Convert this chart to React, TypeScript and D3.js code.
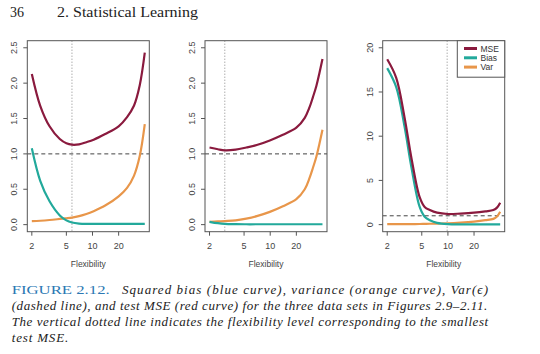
import React from "react";
import * as d3 from "d3";

// flexibility (x) and the three curves for each data set
const flex1 = [2, 2.5, 3.2, 4.2, 5, 5.8, 7, 8.5, 10.3, 14, 20, 25, 30, 35, 40];
const bias1 = [1.08, 0.62, 0.33, 0.13, 0.06, 0.03, 0.015, 0.01, 0.01, 0.01, 0.01, 0.01, 0.01, 0.01, 0.01];
const var1 = [0.05, 0.055, 0.065, 0.08, 0.09, 0.1, 0.12, 0.15, 0.19, 0.27, 0.4, 0.52, 0.69, 0.97, 1.42];
const mse1 = [2.13, 1.68, 1.39, 1.21, 1.15, 1.13, 1.135, 1.165, 1.2, 1.28, 1.39, 1.52, 1.68, 1.97, 2.43];

const flex2 = [2, 2.5, 3, 4, 5.3, 7, 9.9, 14, 20, 25, 28.4, 31, 34, 37, 40];
const bias2 = [0.04, 0.02, 0.01, 0.006, 0.005, 0.005, 0.005, 0.005, 0.005, 0.005, 0.005, 0.005, 0.005, 0.005, 0.005];
const var2 = [0.04, 0.045, 0.05, 0.06, 0.085, 0.12, 0.18, 0.26, 0.36, 0.5, 0.66, 0.8, 0.96, 1.15, 1.34];
const mse2 = [1.09, 1.065, 1.05, 1.06, 1.09, 1.125, 1.19, 1.27, 1.37, 1.51, 1.66, 1.8, 1.96, 2.15, 2.34];

const flex3 = [2, 2.54, 3.17, 3.79, 4.73, 5.4, 6.2, 7.5, 10, 14, 20, 27, 33.4, 37, 40];
const bias3 = [17.7, 15.55, 11.05, 6.55, 2.0, 0.9, 0.5, 0.2, 0.05, 0.02, 0.02, 0.02, 0.02, 0.02, 0.02];
const var3 = [0.05, 0.05, 0.05, 0.06, 0.07, 0.08, 0.1, 0.12, 0.15, 0.23, 0.35, 0.5, 0.65, 0.95, 1.45];
const mse3 = [18.7, 16.6, 12.1, 7.6, 3.1, 2.0, 1.65, 1.35, 1.2, 1.25, 1.35, 1.5, 1.65, 1.95, 2.47];

const xTicks = [2, 5, 10, 20];
const yTicks12 = [0, 0.5, 1, 1.5, 2, 2.5];
const yTicks3 = [0, 5, 10, 15, 20];
const minMseFlex = [5.8, 3.0, 9.8];
const legendLabels = ["MSE", "Bias", "Var"];

const colors = { mse: "#8a1a3e", bias: "#22a99b", variance: "#e8964a" };
const axisColor = "#555";
const labelFont = "'Liberation Sans', Arial, sans-serif";
const serif = "'Liberation Serif', 'Times New Roman', serif";

const panels = [
  { left: 27.3, flex: flex1, bias: bias1, variance: var1, mse: mse1, yMax: 2.5, yTicks: yTicks12, fmt: d3.format(".1f"), best: minMseFlex[0] },
  { left: 205, flex: flex2, bias: bias2, variance: var2, mse: mse2, yMax: 2.5, yTicks: yTicks12, fmt: d3.format(".1f"), best: minMseFlex[1] },
  { left: 382.7, flex: flex3, bias: bias3, variance: var3, mse: mse3, yMax: 20, yTicks: yTicks3, fmt: d3.format("d"), best: minMseFlex[2], legend: true },
];

const boxW = 122;
const boxTop = 40.7;
const boxBottom = 231.7;

function Panel({ p }) {
  const boxH = boxBottom - boxTop;
  const padX = (0.04 * boxW) / 1.08;
  const padY = (0.04 * boxH) / 1.08;
  const right = p.left + boxW;
  const x = d3.scaleLog().domain([2, 40]).range([p.left + padX, right - padX]);
  const y = d3.scaleLinear().domain([0, p.yMax]).range([boxBottom - padY, boxTop + padY]);

  const mk = (vals) =>
    d3
      .line()
      .x((d) => x(d[0]))
      .y((d) => y(d[1]))
      .curve(d3.curveCatmullRom.alpha(0.5))(p.flex.map((f, i) => [f, vals[i]]));

  const clipId = "clip" + Math.round(p.left);
  const cx = (p.left + right) / 2;

  return (
    <g>
      <defs>
        <clipPath id={clipId}>
          <rect x={p.left} y={boxTop} width={boxW} height={boxH} />
        </clipPath>
      </defs>
      <g clipPath={`url(#${clipId})`}>
        <line x1={x(p.best)} x2={x(p.best)} y1={boxTop} y2={boxBottom} stroke="#888" strokeWidth={1} strokeDasharray="1,2" />
        <line x1={p.left} x2={right} y1={y(1)} y2={y(1)} stroke="#444" strokeWidth={1} strokeDasharray="4,3" />
        <path d={mk(p.variance)} fill="none" stroke={colors.variance} strokeWidth={2.2} />
        <path d={mk(p.bias)} fill="none" stroke={colors.bias} strokeWidth={2.2} />
        <path d={mk(p.mse)} fill="none" stroke={colors.mse} strokeWidth={2.2} />
      </g>
      <rect x={p.left} y={boxTop} width={boxW} height={boxH} fill="none" stroke={axisColor} strokeWidth={1} />

      {/* x axis */}
      {xTicks.map((t) => (
        <g key={"x" + t}>
          <line x1={x(t)} x2={x(t)} y1={boxBottom} y2={boxBottom + 4} stroke={axisColor} />
          <text x={x(t)} y={248.5} textAnchor="middle" fontSize={9} fontFamily={labelFont} fill="#444">
            {t}
          </text>
        </g>
      ))}
      <text x={cx} y={267} textAnchor="middle" fontSize={8.5} fontFamily={labelFont} fill="#444">
        Flexibility
      </text>

      {/* y axis */}
      {p.yTicks.map((t) => (
        <g key={"y" + t}>
          <line x1={p.left - 4} x2={p.left} y1={y(t)} y2={y(t)} stroke={axisColor} />
          <text
            transform={`translate(${p.left - 10},${y(t)}) rotate(-90)`}
            textAnchor="middle"
            fontSize={9}
            fontFamily={labelFont}
            fill="#444"
          >
            {p.fmt(t)}
          </text>
        </g>
      ))}

      {p.legend && (
        <g>
          <rect x={457.3} y={boxTop} width={right - 457.3} height={36.5} fill="white" stroke={axisColor} strokeWidth={1} />
          {legendLabels.map((lab, i) => {
            const ly = 48.5 + i * 9.3;
            const col = [colors.mse, colors.bias, colors.variance][i];
            return (
              <g key={lab}>
                <line x1={464} x2={477} y1={ly} y2={ly} stroke={col} strokeWidth={3} />
                <text x={480.5} y={ly + 3} fontSize={8.5} fontFamily={labelFont} fill="#333">
                  {lab}
                </text>
              </g>
            );
          })}
        </g>
      )}
    </g>
  );
}

export default function App() {
  return (
    <svg
      width={540}
      height={354}
      style={{ position: "absolute", left: 0, top: 0, background: "white" }}
    >
      <rect width={540} height={354} fill="white" />
      <text x={10} y={17} fontSize={14} fontFamily={serif} fill="#222">
        36
      </text>
      <text x={57} y={17} fontSize={14} fontFamily={serif} fill="#222" textLength={141} lengthAdjust="spacingAndGlyphs">
        2. Statistical Learning
      </text>

      {panels.map((p) => (
        <Panel key={p.left} p={p} />
      ))}

      <text x={11.7} y={294} fontSize={13.5} fontFamily={serif} fill="#2b78b3" textLength={98} lengthAdjust="spacingAndGlyphs">
        FIGURE 2.12.
      </text>
      <text x={122} y={294} fontSize={13} fontFamily={serif} fontStyle="italic" fill="#222" textLength={366} lengthAdjust="spacing">
        Squared bias (blue curve), variance (orange curve), Var(ϵ)
      </text>
      <text x={11.7} y={310} fontSize={13} fontFamily={serif} fontStyle="italic" fill="#222" textLength={475.5} lengthAdjust="spacing">
        (dashed line), and test MSE (red curve) for the three data sets in Figures 2.9–2.11.
      </text>
      <text x={11.7} y={326} fontSize={13} fontFamily={serif} fontStyle="italic" fill="#222" textLength={476.5} lengthAdjust="spacing">
        The vertical dotted line indicates the flexibility level corresponding to the smallest
      </text>
      <text x={11.7} y={342} fontSize={13} fontFamily={serif} fontStyle="italic" fill="#222" textLength={56.5} lengthAdjust="spacing">
        test MSE.
      </text>
    </svg>
  );
}
